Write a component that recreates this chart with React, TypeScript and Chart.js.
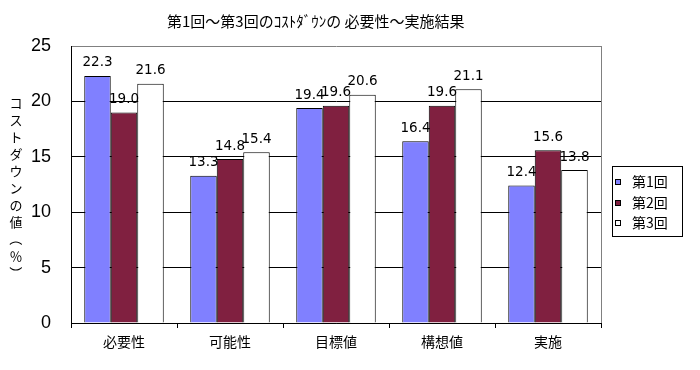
import React, { useEffect, useRef } from "react";
import { Chart, registerables } from "chart.js";

Chart.register(...registerables);

const categories = ["必要性", "可能性", "目標値", "構想値", "実施"];
const seriesNames = ["第1回", "第2回", "第3回"];
const round1 = [22.3, 13.3, 19.4, 16.4, 12.4];
const round2 = [19.0, 14.8, 19.6, 19.6, 15.6];
const round3 = [21.6, 15.4, 20.6, 21.1, 13.8];
const yTicks = [0, 5, 10, 15, 20, 25];
const titleText = "第1回～第3回のｺｽﾄﾀﾞｳﾝの 必要性～実施結果";
const yTitleChars = ["コ", "ス", "ト", "ダ", "ウ", "ン", "の", "値", "（", "％", "）"];

const colors = ["#8080FF", "#802040", "#FFFFFF"];
const JP = '"Noto Sans CJK JP", sans-serif';

const decorPlugin = {
  id: "decor",
  beforeDatasetsDraw(chart: any) {
    const { ctx, chartArea } = chart;
    ctx.save();
    ctx.strokeStyle = "#808080";
    ctx.lineWidth = 1;
    ctx.beginPath();
    ctx.moveTo(Math.round(chartArea.right) + 0.5, chartArea.top);
    ctx.lineTo(Math.round(chartArea.right) + 0.5, chartArea.bottom);
    ctx.stroke();
    ctx.restore();
  },
  afterDraw(chart: any) {
    const { ctx } = chart;
    ctx.save();
    // Title
    ctx.fillStyle = "#000";
    ctx.font = "15px " + JP;
    ctx.textAlign = "left";
    ctx.textBaseline = "middle";
    ctx.fillText(titleText, 167, 21);

    // Vertical y title
    ctx.font = "13px " + JP;
    ctx.textAlign = "center";
    yTitleChars.forEach((ch, i) => {
      const x = 16;
      const y = 103 + i * 17;
      if (ch === "（" || ch === "）") {
        ctx.save();
        ctx.translate(x, y);
        ctx.rotate(Math.PI / 2);
        ctx.fillText(ch, 0, 0);
        ctx.restore();
      } else {
        ctx.fillText(ch, x, y);
      }
    });

    // Data labels
    ctx.font = '13.5px "DejaVu Sans", sans-serif';
    ctx.textAlign = "center";
    ctx.textBaseline = "middle";
    chart.data.datasets.forEach((ds: any, di: number) => {
      const meta = chart.getDatasetMeta(di);
      meta.data.forEach((bar: any, i: number) => {
        ctx.fillText(ds.data[i].toFixed(1), bar.x, bar.y - 13);
      });
    });

    // Legend
    ctx.strokeStyle = "#000";
    ctx.lineWidth = 1;
    ctx.strokeRect(612.5, 166.5, 70, 70);
    ctx.font = "14px " + JP;
    ctx.textAlign = "left";
    seriesNames.forEach((name, i) => {
      const cy = 182 + i * 20.5;
      ctx.fillStyle = colors[i];
      ctx.fillRect(615, Math.round(cy) - 3, 6, 6);
      ctx.strokeRect(615.5, Math.round(cy) - 2.5, 5, 5);
      ctx.fillStyle = "#000";
      ctx.fillText(name, 632, cy);
    });
    ctx.restore();
  },
};

export default function App() {
  const ref = useRef<HTMLCanvasElement>(null);
  useEffect(() => {
    const canvas = ref.current;
    if (!canvas) return;
    const chart = new Chart(canvas, {
      type: "bar",
      data: {
        labels: categories,
        datasets: [round1, round2, round3].map((d, i) => ({
          label: seriesNames[i],
          data: d,
          backgroundColor: colors[i],
          borderColor: "#000",
          borderWidth: 1,
          categoryPercentage: 0.75,
          barPercentage: 1,
        })),
      },
      options: {
        responsive: false,
        animation: false,
        events: [],
        layout: { padding: { top: 46, right: 99, left: 0, bottom: 0 } },
        plugins: {
          legend: { display: false },
          title: { display: false },
          tooltip: { enabled: false },
        },
        scales: {
          x: {
            offset: true,
            grid: {
              drawOnChartArea: false,
              drawTicks: true,
              tickLength: 5,
              color: "#000",
            },
            border: { color: "#000", width: 1 },
            ticks: {
              color: "#000",
              padding: 5,
              font: { family: JP, size: 14 },
              maxRotation: 0,
            },
            afterFit(scale: any) {
              scale.height = 47;
            },
          },
          y: {
            min: 0,
            max: 25,
            afterBuildTicks(scale: any) {
              scale.ticks = yTicks.map((v) => ({ value: v }));
            },
            grid: {
              color: (c: any) => (c.tick && c.tick.value === 25 ? "#808080" : "#000"),
              drawTicks: false,
              tickLength: 0,
            },
            border: { color: "#000", width: 1 },
            ticks: {
              color: "#000",
              padding: 20,
              font: { family: '"Liberation Sans", Arial, sans-serif', size: 18 },
            },
            afterFit(scale: any) {
              scale.width = 71;
            },
          },
        },
      },
      plugins: [decorPlugin],
    });
    return () => chart.destroy();
  }, []);
  return (
    <div style={{ position: "fixed", left: 0, top: 0, width: 700, height: 370, background: "#fff" }}>
      <canvas ref={ref} width={700} height={370} style={{ display: "block" }} />
    </div>
  );
}
